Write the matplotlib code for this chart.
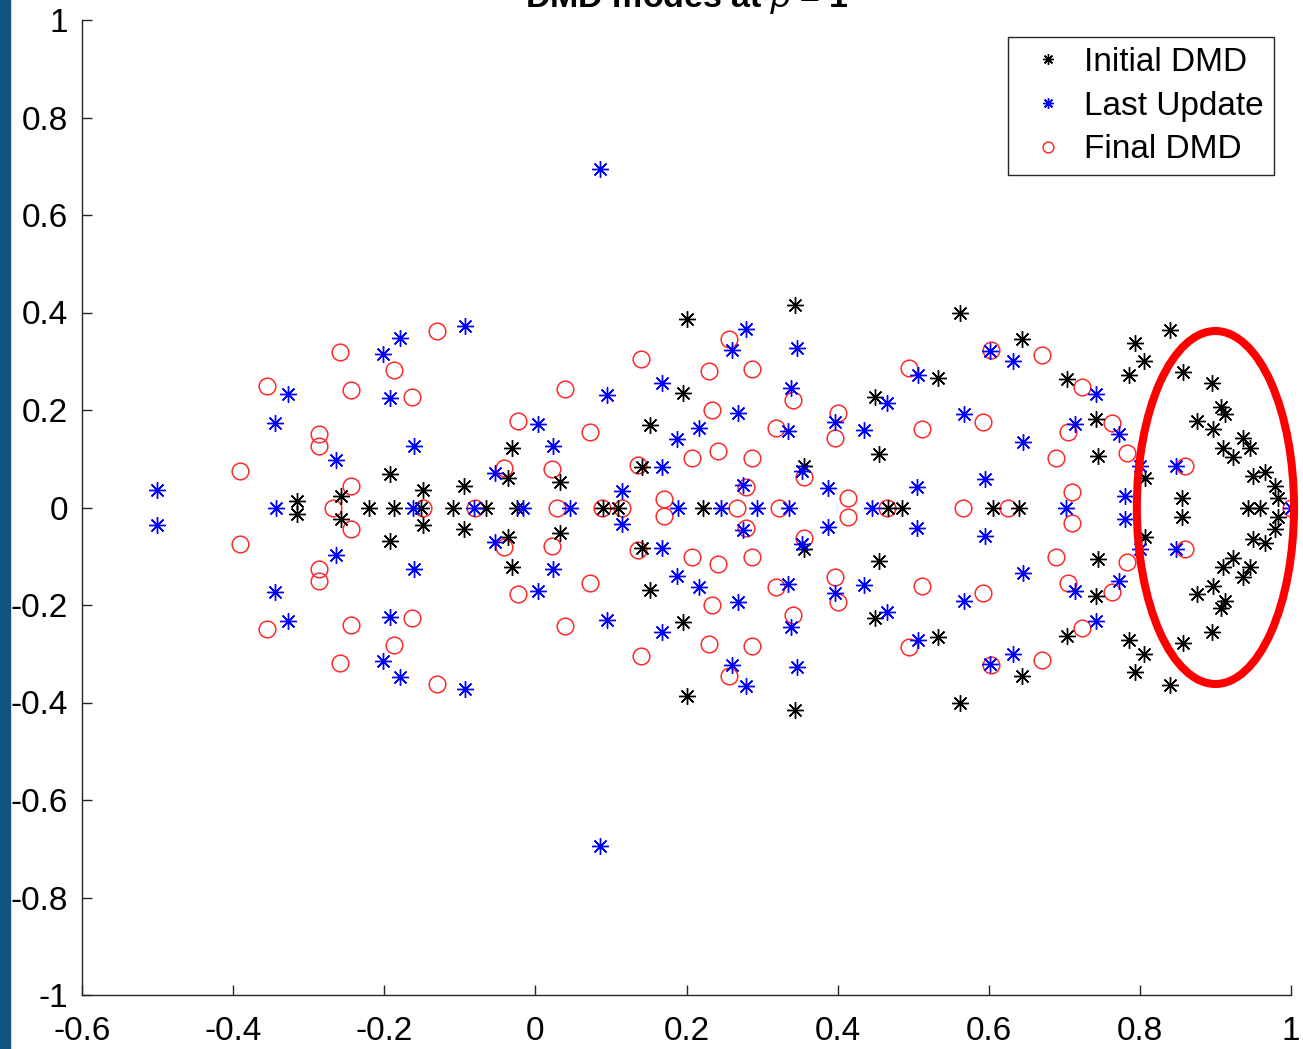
import matplotlib
matplotlib.use('Agg')
import matplotlib.pyplot as plt
import numpy as np
from matplotlib.patches import Ellipse, Rectangle

plt.rcParams['font.family'] = ['Liberation Sans', 'DejaVu Sans']
plt.rcParams['mathtext.fontset'] = 'custom'
plt.rcParams['mathtext.rm'] = 'Liberation Sans'
plt.rcParams['mathtext.it'] = 'Liberation Sans:italic'
plt.rcParams['mathtext.bf'] = 'Liberation Sans:bold'

# eigenvalues come in conjugate pairs: (re, +im) listed, -im mirrored below
init_re = [-0.316, -0.257, -0.192, -0.149, -0.094, -0.031, -0.036, 0.033, 0.141, 0.152,
           0.195, 0.201, 0.344, 0.356, 0.450, 0.455, 0.533, 0.562, 0.644, 0.704,
           0.742, 0.744, 0.794, 0.805, 0.786, 0.840, 0.857, 0.807, 0.895, 0.907,
           0.913, 0.876, 0.897, 0.936, 0.946, 0.910, 0.923, 0.966, 0.950, 0.979,
           0.983, 0.856]
init_im = [0.014, 0.024, 0.068, 0.035, 0.044, 0.123, 0.060, 0.052, 0.083, 0.170,
           0.234, 0.386, 0.415, 0.085, 0.227, 0.110, 0.266, 0.400, 0.346, 0.264,
           0.182, 0.105, 0.337, 0.300, 0.272, 0.364, 0.278, 0.060, 0.255, 0.206,
           0.192, 0.177, 0.161, 0.143, 0.122, 0.122, 0.104, 0.073, 0.065, 0.044,
           0.020, 0.020]
init_real_only = [-0.220, -0.187, -0.152, -0.109, -0.066, -0.024, 0.090, 0.109, 0.222,
                  0.467, 0.485, 0.606, 0.640, 0.943, 0.959]

last_re = [-0.501, -0.345, -0.327, -0.264, -0.202, -0.179, -0.193, -0.161, -0.093, -0.054,
           0.004, 0.023, 0.085, 0.095, 0.114, 0.167, 0.187, 0.217, 0.167, 0.260,
           0.279, 0.268, 0.275, 0.334, 0.338, 0.346, 0.353, 0.387, 0.397, 0.435,
           0.465, 0.505, 0.507, 0.567, 0.595, 0.602, 0.632, 0.645, 0.714, 0.742,
           0.772, 0.780, 0.800, 0.848]
last_im = [0.036, 0.174, 0.232, 0.097, 0.315, 0.347, 0.225, 0.126, 0.372, 0.071,
           0.171, 0.126, 0.694, 0.231, 0.034, 0.255, 0.140, 0.163, 0.083, 0.323,
           0.366, 0.194, 0.046, 0.157, 0.245, 0.327, 0.075, 0.040, 0.175, 0.159,
           0.214, 0.042, 0.272, 0.192, 0.058, 0.321, 0.300, 0.134, 0.171, 0.232,
           0.151, 0.024, 0.085, 0.085]
last_real_only = [-0.343, -0.162, -0.081, -0.016, 0.046, 0.189, 0.246, 0.293, 0.336,
                  0.445, 0.702, 1.0]

final_re = [-0.391, -0.355, -0.286, -0.286, -0.259, -0.244, -0.244, -0.187, -0.163, -0.130,
            -0.042, -0.023, 0.022, 0.039, 0.072, 0.136, 0.140, 0.170, 0.207, 0.230,
            0.234, 0.242, 0.256, 0.279, 0.287, 0.287, 0.318, 0.341, 0.355, 0.396,
            0.400, 0.414, 0.494, 0.512, 0.592, 0.603, 0.670, 0.689, 0.705, 0.710,
            0.724, 0.763, 0.783, 0.860]
final_im = [0.075, 0.249, 0.151, 0.126, 0.319, 0.241, 0.044, 0.282, 0.227, 0.362,
            0.081, 0.177, 0.079, 0.243, 0.155, 0.087, 0.305, 0.018, 0.101, 0.280,
            0.200, 0.116, 0.346, 0.042, 0.284, 0.102, 0.163, 0.221, 0.063, 0.143,
            0.194, 0.019, 0.286, 0.161, 0.176, 0.323, 0.313, 0.101, 0.155, 0.032,
            0.247, 0.173, 0.111, 0.085]
final_real_only = [-0.268, -0.149, -0.080, 0.029, 0.088, 0.114, 0.267, 0.322, 0.465,
                   0.566, 0.625, 1.0]

xticks = [-0.6, -0.4, -0.2, 0, 0.2, 0.4, 0.6, 0.8, 1]
xticklabels = ['-0.6', '-0.4', '-0.2', '0', '0.2', '0.4', '0.6', '0.8', '1']
yticks = [-1, -0.8, -0.6, -0.4, -0.2, 0, 0.2, 0.4, 0.6, 0.8, 1]
yticklabels = ['-1', '-0.8', '-0.6', '-0.4', '-0.2', '0', '0.2', '0.4', '0.6', '0.8', '1']


def full_set(re, im, real_only):
    re = np.array(re)
    im = np.array(im)
    xs = np.concatenate([re, re, real_only])
    ys = np.concatenate([im, -im, np.zeros(len(real_only))])
    return xs, ys


fig = plt.figure(figsize=(13.03, 10.49), dpi=100)
ax = fig.add_axes([82 / 1303, 54 / 1049, 1209 / 1303, 975 / 1049])

star = (8, 2, 0)
x1, y1 = full_set(init_re, init_im, init_real_only)
x2, y2 = full_set(last_re, last_im, last_real_only)
x3, y3 = full_set(final_re, final_im, final_real_only)

ax.plot(x1, y1, linestyle='none', marker=star, markersize=12, markeredgewidth=1.0,
        color='k', label='Initial DMD', zorder=3)
ax.plot(x2, y2, linestyle='none', marker=star, markersize=12, markeredgewidth=1.0,
        color='#0000ff', label='Last Update', zorder=4)
ax.plot(x3, y3, linestyle='none', marker='o', markersize=12, markeredgewidth=1.1,
        markerfacecolor='none', markeredgecolor='#ff2a2a', label='Final DMD', zorder=2)

# highlight the cluster near the unit circle
ax.add_patch(Ellipse((0.900, 0.0), width=0.208, height=0.724, fill=False,
                     edgecolor='#ff0000', linewidth=5.8, clip_on=False, zorder=6))

ax.set_xlim(-0.6, 1)
ax.set_ylim(-1, 1)
ax.set_xticks(xticks)
ax.set_xticklabels(xticklabels)
ax.set_yticks(yticks)
ax.set_yticklabels(yticklabels)
ax.tick_params(direction='in', length=7, width=1, labelsize=24, colors='#262626')
ax.tick_params(axis='x', pad=15)
ax.tick_params(axis='y', pad=10)
for s in ['top', 'right']:
    ax.spines[s].set_visible(False)
for s in ['left', 'bottom']:
    ax.spines[s].set_color('#262626')
    ax.spines[s].set_linewidth(1.0)
for lab in ax.get_xticklabels() + ax.get_yticklabels():
    lab.set_color('k')

ax.set_title(r'DMD modes at $\rho$ = 1', fontsize=24.5, fontweight='bold', pad=9)

leg = ax.legend(loc='upper right', bbox_to_anchor=(1274 / 1303, 1 - 37 / 1049),
                bbox_transform=fig.transFigure, borderaxespad=0, fontsize=24,
                markerscale=0.65, handlelength=1.8, handletextpad=0.2,
                labelspacing=0.38, borderpad=0.3, fancybox=False, framealpha=1)
leg.get_frame().set_edgecolor('#262626')
leg.get_frame().set_linewidth(1.0)

# dark strip on the left border of the screenshot
fig.patches.append(Rectangle((0, 0), 10 / 1303, 1, transform=fig.transFigure,
                             color='#11557f', zorder=10))

fig.savefig('out.png', dpi=100)
